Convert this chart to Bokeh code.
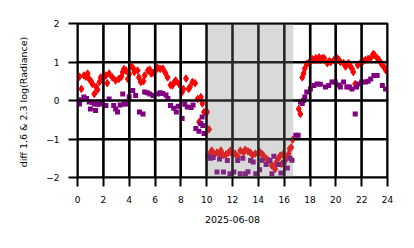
from bokeh.plotting import figure
from bokeh.models import BoxAnnotation, FixedTicker
from bokeh.embed import file_html
from bokeh.resources import INLINE

# red diamonds (diff 1.6 & 2.3, series 1)
red_hours = [0.05, 0.15, 0.3, 0.5, 0.65, 0.78, 0.9, 1.05, 1.15, 1.3, 1.45, 1.55, 1.7, 1.8, 1.94,
             2.2, 2.3, 2.45, 2.7, 2.95, 3.2, 3.4, 3.5, 3.6, 3.75, 3.9, 4.0, 4.15, 4.35, 4.4, 4.65,
             4.75, 4.9, 5.1, 5.2, 5.45, 5.6, 5.7, 5.85, 6.06, 6.2, 6.4, 6.6, 6.8, 6.97, 7.2, 7.35,
             7.5, 7.6, 7.85, 8.1, 8.2, 8.4, 8.6, 8.7, 8.9, 9.1, 9.3, 9.42, 9.55, 9.67, 9.8, 10.04,
             10.19, 10.3, 10.4, 10.6, 10.8, 11.0, 11.1, 11.3, 11.5, 11.7, 11.85, 12.0, 12.2, 12.4,
             12.6, 12.85, 12.98, 13.2, 13.37, 13.55, 13.76, 14.0, 14.15, 14.3, 14.4, 14.65, 14.8,
             15.04, 15.2, 15.3, 15.4, 15.55, 15.7, 15.8, 15.9, 16.05, 16.2, 16.35, 16.43, 16.55,
             16.65, 17.13, 17.25, 17.4, 17.5, 17.6, 17.75, 17.9, 18.03, 18.15, 18.3, 18.45, 18.55,
             18.7, 18.8, 18.95, 19.1, 19.34, 19.5, 19.6, 19.85, 20.1, 20.25, 20.35, 20.6, 20.75,
             20.9, 21.0, 21.1, 21.25, 21.35, 21.5, 21.7, 21.9, 22.1, 22.28, 22.5, 22.7, 22.9, 23.0,
             23.2, 23.35, 23.45, 23.6, 23.7, 23.86]
red_values = [0.60, 0.62, 0.30, 0.65, 0.62, 0.70, 0.56, 0.50, 0.43, 0.17, 0.35, 0.28, 0.48, 0.60, 0.56,
              0.65, 0.45, 0.70, 0.60, 0.52, 0.56, 0.62, 0.74, 0.82, 0.78, 0.56, 0.68, 0.91, 0.82, 0.74, 0.78,
              0.60, 0.48, 0.50, 0.65, 0.78, 0.80, 0.70, 0.72, 0.78, 0.85, 0.82, 0.83, 0.72, 0.60, 0.40, 0.39,
              0.48, 0.52, 0.43, 0.22, 0.30, 0.57, 0.30, 0.35, 0.48, 0.45, 0.04, -0.56, 0.09, -0.08, -0.30, -0.30,
              -0.75, -1.35, -1.30, -1.40, -1.35, -1.38, -1.30, -1.42, -1.40, -1.35, -1.30, -1.40, -1.38, -1.45,
              -1.30, -1.35, -1.28, -1.32, -1.35, -1.42, -1.38, -1.36, -1.35, -1.40, -1.43, -1.52, -1.56,
              -1.69, -1.72, -1.78, -1.60, -1.50, -1.43, -1.65, -1.40, -1.45, -1.50, -1.38, -1.25, -1.22,
              -1.02, -0.22, -0.35, 0.60, 0.70, 0.83, 0.95, 0.98, 1.00, 1.08, 1.05, 1.10, 1.05,
              1.12, 1.05, 1.10, 1.10, 0.97, 1.02, 1.00, 1.05, 1.10, 1.05, 1.00, 0.97, 0.88,
              0.95, 0.97, 0.90, 0.83, 0.74, 0.43, 0.92, 0.97, 1.02, 1.05, 1.08, 1.10, 1.21, 1.18,
              1.10, 1.05, 1.00, 0.92, 0.88, 0.79]

# purple squares (series 2)
purple_hours = [0.05, 0.15, 0.3, 0.5, 0.7, 0.9, 1.0, 1.15, 1.3, 1.4, 1.55, 1.7, 1.94, 2.2, 2.45,
                2.8, 2.95, 3.1, 3.3, 3.5, 3.6, 3.75, 4.0, 4.28, 4.5, 4.8, 5.07, 5.2, 5.4, 5.6, 5.85,
                6.2, 6.4, 6.6, 6.85, 7.0, 7.2, 7.45, 7.65, 7.8, 8.1, 8.3, 8.5, 8.8, 8.95, 9.16, 9.4,
                9.55, 9.65, 9.7, 9.8, 10.1, 10.3, 10.5, 10.8, 11.0, 11.3, 11.6, 11.8, 12.1, 12.4, 12.6,
                12.8, 13.0, 13.2, 13.4, 13.6, 13.8, 14.1, 14.3, 14.6, 14.9, 15.05, 15.2, 15.55, 15.75,
                16.0, 16.25, 16.45, 16.6, 16.9, 17.08, 17.26, 17.4, 17.5, 17.6, 17.75, 18.03, 18.3,
                18.55, 18.8, 19.2, 19.45, 19.7, 19.95, 20.2, 20.35, 20.6, 20.85, 21.05, 21.25, 21.5,
                21.6, 21.75, 22.0, 22.3, 22.5, 22.7, 22.95, 23.2, 23.6, 23.85]
purple_values = [-0.05, -0.09, 0.02, 0.09, 0.05, -0.04, -0.22, -0.05, -0.09, -0.26, -0.10, -0.09, -0.04, -0.13, 0.04,
                 -0.13, -0.22, -0.30, -0.12, 0.17, -0.09, -0.09, 0.10, 0.26, 0.13, -0.30, -0.35, 0.22, 0.20, 0.17, 0.13,
                 0.17, 0.20, 0.18, 0.14, 0.05, -0.13, -0.20, -0.30, -0.15, -0.47, -0.10, -0.17, -0.18, -0.12, -0.73, -0.80,
                 -0.60, -0.43, -0.65, -0.86, -1.45, -1.50, -1.48, -1.86, -1.52, -1.86, -1.56, -1.90, -1.86, -1.56, -1.90,
                 -1.50, -1.90, -1.85, -1.56, -1.60, -1.90, -1.80, -1.55, -1.66, -1.56, -1.90, -1.45, -1.66, -1.88,
                 -1.60, -1.75, -1.50, -1.55, -0.90, -0.90, -0.04, -0.08, 0.00, 0.09, 0.22, 0.30, 0.39,
                 0.43, 0.42, 0.35, 0.39, 0.48, 0.48, 0.40, 0.35, 0.48, 0.35, 0.35, 0.30, -0.35,
                 0.35, 0.43, 0.48, 0.48, 0.50, 0.56, 0.65, 0.65, 0.39, 0.30]

shade_start = 10.0
shade_end = 16.7
x_ticks = [0, 2, 4, 6, 8, 10, 12, 14, 16, 18, 20, 22, 24]
y_ticks = [-2, -1, 0, 1, 2]
x_label = "2025-06-08"
y_label = "diff 1.6 & 2.3  log(Radiance)"

FONT = "DejaVu Sans"

p = figure(width=414, height=248, x_range=(0, 24), y_range=(-2, 2),
           output_backend="svg", toolbar_location=None,
           min_border_left=77, min_border_right=27, min_border_top=23, min_border_bottom=71)
p.background_fill_color = "white"
p.border_fill_color = "white"
p.outline_line_color = "black"
p.outline_line_width = 2

p.scatter(red_hours, red_values, marker="diamond", size=7.5, color="red", line_color="red")
p.scatter(purple_hours, purple_values, marker="square", size=5, color="purple", line_color=None)

# grid lines as multi_line glyphs over the markers, one per tick
ymin, ymax = y_ticks[0], y_ticks[-1]
xmin, xmax = x_ticks[0], x_ticks[-1]
p.multi_line(xs=[[t, t] for t in x_ticks], ys=[[ymin, ymax] for _ in x_ticks],
             line_color="#000000", line_width=2.2)
p.multi_line(xs=[[xmin, xmax] for _ in y_ticks], ys=[[t, t] for t in y_ticks],
             line_color="#000000", line_width=2.2)

p.add_layout(BoxAnnotation(left=shade_start, right=shade_end, fill_color="gray",
                           fill_alpha=0.3, line_color=None))

p.xaxis.ticker = FixedTicker(ticks=x_ticks)
p.yaxis.ticker = FixedTicker(ticks=y_ticks)
p.xgrid.ticker = FixedTicker(ticks=x_ticks)
p.ygrid.ticker = FixedTicker(ticks=y_ticks)
for g in (p.xgrid, p.ygrid):
    g.grid_line_color = "black"
    g.grid_line_width = 2
    g.grid_line_alpha = 1.0

p.yaxis.major_label_overrides = {-2: "\u22122", -1: "\u22121"}
p.xaxis.axis_label = x_label
p.yaxis.axis_label = y_label

for ax in (p.xaxis, p.yaxis):
    ax.axis_line_color = None
    ax.major_tick_line_color = "black"
    ax.major_tick_line_width = 2
    ax.major_tick_out = 9
    ax.major_tick_in = 0
    ax.minor_tick_line_color = None
    ax.major_label_text_font = FONT
    ax.major_label_text_font_size = "9px"
    ax.major_label_text_color = "black"
    ax.axis_label_text_font = FONT
    ax.axis_label_text_font_size = "9.5px"
    ax.axis_label_text_font_style = "normal"
    ax.axis_label_text_color = "black"
    ax.major_label_standoff = 9

p.xaxis.axis_label_standoff = 10
p.yaxis.axis_label_standoff = 14

open("out.html", "w").write(file_html(p, INLINE))
